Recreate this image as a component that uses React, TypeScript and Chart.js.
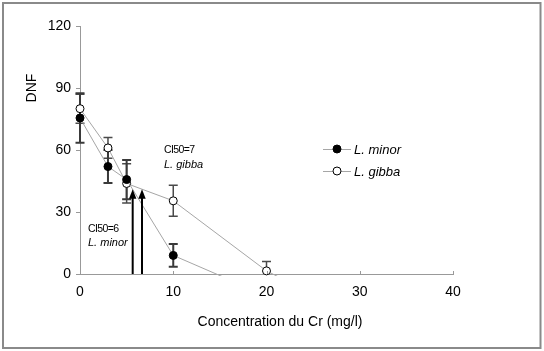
import React, { useEffect, useRef } from "react";
import { Chart, registerables } from "chart.js";
Chart.register(...registerables);

// Data
const minorConc = [0, 3, 5, 10, 20];
const minorDNF = [75.5, 52, 45.7, 9, -10.5];
const minorErr: (number | null)[] = [12, 8, 9.5, 5.5, null];
const gibbaConc = [0, 3, 5, 10, 20, 30];
const gibbaDNF = [80, 61, 43.8, 35.4, 1.5, -21];
const gibbaErr: (number | null)[] = [7, 5, 9.5, 7.5, 4.5, null];
const minorRadius = [4, 4, 4, 4, 0];
const gibbaRadius = [4, 4, 4, 4, 4, 0];
const ci50Arrows = [5.65, 6.65];
const arrowTip = 41;
const seriesNames = ["L. minor", "L. gibba"];
const xTitle = "Concentration du Cr (mg/l)";
const yTitle = "DNF";

const FONT = "'Liberation Sans', Arial, sans-serif";

const overlay = {
  id: "overlay",
  beforeDraw(chart: any) {
    const ctx = chart.ctx;
    ctx.save();
    ctx.fillStyle = "#fff";
    ctx.fillRect(0, 0, chart.width, chart.height);
    ctx.strokeStyle = "#8a8a8a";
    ctx.lineWidth = 2;
    ctx.strokeRect(3, 3, 537.5, 345);
    ctx.restore();
  },
  beforeDatasetsDraw(chart: any) {
    const ctx = chart.ctx;
    const xs = chart.scales.x;
    const ys = chart.scales.y;
    const a = chart.chartArea;
    ctx.save();
    ctx.beginPath();
    ctx.rect(a.left - 10, a.top - 10, a.right - a.left + 20, a.bottom - a.top + 10);
    ctx.clip();
    const draw = (conc: number[], vals: number[], errs: (number | null)[], lw: number, col: string) => {
      ctx.strokeStyle = col;
      ctx.lineWidth = lw;
      conc.forEach((c, i) => {
        const e = errs[i];
        if (e == null) return;
        const x = xs.getPixelForValue(c);
        const yt = ys.getPixelForValue(vals[i] + e);
        const yb = ys.getPixelForValue(vals[i] - e);
        ctx.beginPath();
        ctx.moveTo(x, yt);
        ctx.lineTo(x, yb);
        ctx.moveTo(x - 4.5, yt);
        ctx.lineTo(x + 4.5, yt);
        ctx.moveTo(x - 4.5, yb);
        ctx.lineTo(x + 4.5, yb);
        ctx.stroke();
      });
    };
    draw(gibbaConc, gibbaDNF, gibbaErr, 1.5, "#4a4a4a");
    draw(minorConc, minorDNF, minorErr, 2, "#3a3a3a");
    ctx.restore();
  },
  afterDatasetsDraw(chart: any) {
    const ctx = chart.ctx;
    const xs = chart.scales.x;
    const ys = chart.scales.y;
    const a = chart.chartArea;
    ctx.save();
    // inner ticks on x axis
    ctx.strokeStyle = "#999";
    ctx.lineWidth = 1;
    xs.ticks.forEach((t: any) => {
      const x = Math.round(xs.getPixelForValue(t.value)) + 0.5;
      ctx.beginPath();
      ctx.moveTo(x, a.bottom);
      ctx.lineTo(x, a.bottom - 3);
      ctx.stroke();
    });
    // arrows
    ctx.strokeStyle = "#000";
    ctx.fillStyle = "#000";
    ctx.lineWidth = 2;
    ci50Arrows.forEach((v) => {
      const x = xs.getPixelForValue(v);
      const yTip = ys.getPixelForValue(arrowTip);
      const y0 = ys.getPixelForValue(0);
      ctx.beginPath();
      ctx.moveTo(x, y0);
      ctx.lineTo(x, yTip + 7);
      ctx.stroke();
      ctx.beginPath();
      ctx.moveTo(x, yTip);
      ctx.lineTo(x - 3.7, yTip + 9.5);
      ctx.lineTo(x + 3.7, yTip + 9.5);
      ctx.closePath();
      ctx.fill();
    });
    // annotations
    ctx.fillStyle = "#000";
    ctx.textBaseline = "middle";
    ctx.textAlign = "left";
    (ctx as any).letterSpacing = "-0.6px";
    ctx.font = `10.5px ${FONT}`;
    ctx.fillText("CI50=7", 164, 150);
    ctx.fillText("CI50=6", 88, 229);
    (ctx as any).letterSpacing = "0px";
    ctx.font = `italic 11px ${FONT}`;
    ctx.fillText("L. gibba", 164, 165);
    ctx.fillText("L. minor", 88, 243);
    // legend
    const legY = [149, 171];
    legY.forEach((y, i) => {
      ctx.strokeStyle = "#a6a6a6";
      ctx.lineWidth = 1;
      ctx.beginPath();
      ctx.moveTo(323, y + 0.5);
      ctx.lineTo(351, y + 0.5);
      ctx.stroke();
      ctx.beginPath();
      ctx.arc(337, y, 4, 0, Math.PI * 2);
      ctx.fillStyle = i === 0 ? "#000" : "#fff";
      ctx.fill();
      ctx.strokeStyle = "#000";
      ctx.stroke();
      ctx.fillStyle = "#000";
      ctx.font = `italic 13px ${FONT}`;
      ctx.fillText(seriesNames[i], 354, y + 1);
    });
    // axis titles
    ctx.font = `14px ${FONT}`;
    ctx.textAlign = "center";
    ctx.fillText(xTitle, 280, 322);
    ctx.translate(32, 88);
    ctx.rotate(-Math.PI / 2);
    ctx.font = `14px ${FONT}`;
    ctx.fillText(yTitle, 0, 0);
    ctx.restore();
  },
};

export default function App() {
  const ref = useRef<HTMLCanvasElement>(null);
  useEffect(() => {
    document.body.style.margin = "0";
    const chart = new Chart(ref.current!, {
      type: "scatter",
      data: {
        datasets: [
          {
            label: seriesNames[0],
            data: minorConc.map((c, i) => ({ x: c, y: minorDNF[i] })),
            showLine: true,
            borderColor: "#a6a6a6",
            borderWidth: 1,
            pointRadius: minorRadius,
            pointBackgroundColor: "#000",
            pointBorderColor: "#000",
            pointBorderWidth: 1,
            clip: { left: 10, top: 10, right: 10, bottom: 2 } as any,
          },
          {
            label: seriesNames[1],
            data: gibbaConc.map((c, i) => ({ x: c, y: gibbaDNF[i] })),
            showLine: true,
            borderColor: "#a6a6a6",
            borderWidth: 1,
            pointRadius: gibbaRadius,
            pointBackgroundColor: "#fff",
            pointBorderColor: "#000",
            pointBorderWidth: 1,
            clip: { left: 10, top: 10, right: 10, bottom: 2 } as any,
          },
        ],
      },
      options: {
        animation: false,
        responsive: true,
        maintainAspectRatio: false,
        layout: { padding: { left: 0, top: 26, right: 91, bottom: 0 } },
        plugins: { legend: { display: false }, tooltip: { enabled: false } },
        scales: {
          x: {
            type: "linear",
            min: 0,
            max: 40,
            ticks: { stepSize: 10, color: "#000", font: { family: FONT, size: 14 }, padding: 10 },
            grid: { display: true, drawOnChartArea: false, drawTicks: false },
            border: { display: true, color: "#999", width: 1 },
            afterFit: (s: any) => { s.height = 77; },
          },
          y: {
            type: "linear",
            min: 0,
            max: 120,
            ticks: { stepSize: 30, color: "#000", font: { family: FONT, size: 14 }, padding: 5 },
            grid: { display: true, drawOnChartArea: false, drawTicks: true, tickLength: 4, color: "#999" },
            border: { display: true, color: "#999", width: 1 },
            afterFit: (s: any) => { s.width = 80; },
          },
        },
      },
      plugins: [overlay],
    });
    return () => chart.destroy();
  }, []);
  return (
    <div style={{ width: 544, height: 351, position: "relative" }}>
      <canvas ref={ref} />
    </div>
  );
}
